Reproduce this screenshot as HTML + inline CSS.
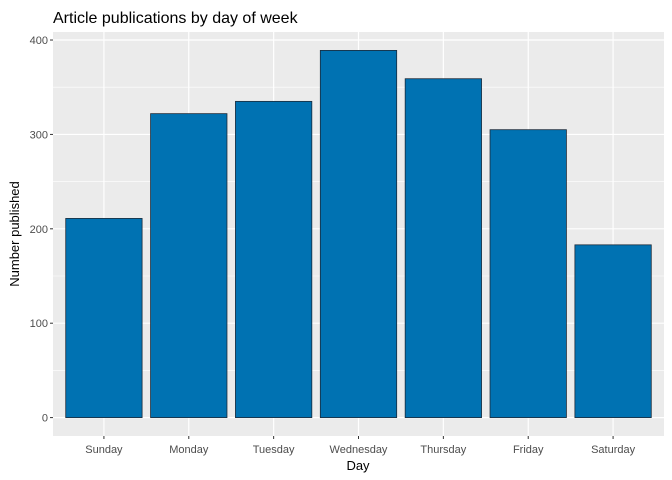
<!DOCTYPE html>
<html><head><meta charset="utf-8"><style>
body{margin:0;background:#fff;}
svg{display:block;font-family:"Liberation Sans",Arial,sans-serif;}
</style></head><body>
<svg id="chart" width="672" height="480">
<text x="53" y="23" font-size="16" fill="#000">Article publications by day of week</text>
<rect x="53" y="32" width="611" height="404" fill="#EBEBEB"/>
<g id="grid"></g><g id="bars"></g><g id="axes"></g>
<text x="358" y="470" font-size="13" text-anchor="middle" fill="#000">Day</text>
<text transform="translate(19,234) rotate(-90)" font-size="13" text-anchor="middle" fill="#000">Number published</text>
</svg>
<script>
const categories=["Sunday","Monday","Tuesday","Wednesday","Thursday","Friday","Saturday"];
const values=[211,322,335,389,359,305,183];
const yTicks=[0,100,200,300,400];
const yMinor=[50,150,250,350];
const NS="http://www.w3.org/2000/svg";
const pL=53,pR=664,pT=32,pB=436;
const yMin=-19.5,yMax=408.5;
function y(v){return pB-(v-yMin)/(yMax-yMin)*(pB-pT);}
const step=(pR-pL)/(categories.length+0.2);
function x(i){return pL+step*(0.6+i);}
function mk(t,a,p){const e=document.createElementNS(NS,t);for(const k in a)e.setAttribute(k,a[k]);p.appendChild(e);return e;}
const grid=document.getElementById('grid'),bars=document.getElementById('bars'),axes=document.getElementById('axes');
yMinor.forEach(v=>{const l=mk('line',{x1:pL,x2:pR,y1:y(v),y2:y(v),stroke:'#fff','stroke-width':0.6},grid);

});
yTicks.forEach(v=>{const l=mk('line',{x1:pL,x2:pR,y1:y(v),y2:y(v),stroke:'#fff','stroke-width':1.2},grid);


const t=mk('text',{x:pL-5,y:y(v)+4,'font-size':11,'text-anchor':'end',fill:'#4D4D4D'},axes);t.textContent=v;


const tk=mk('line',{x1:pL-3,x2:pL,y1:y(v),y2:y(v),stroke:'#333'},axes);

});
categories.forEach((c,i)=>{const cx=x(i);
const l=mk('line',{x1:cx,x2:cx,y1:pT,y2:pB,stroke:'#fff','stroke-width':1.2},grid);


const w=step*0.9;
const r=mk('rect',{x:cx-w/2,y:y(values[i]),width:w,height:y(0)-y(values[i]),fill:'#0072B2',stroke:'#1a2a3a','stroke-width':0.8},bars);


const tk=mk('line',{x1:cx,x2:cx,y1:pB,y2:pB+3,stroke:'#333'},axes);


const t=mk('text',{x:cx,y:pB+17,'font-size':11,'text-anchor':'middle',fill:'#4D4D4D'},axes);t.textContent=c;

});
</script>
</body></html>
